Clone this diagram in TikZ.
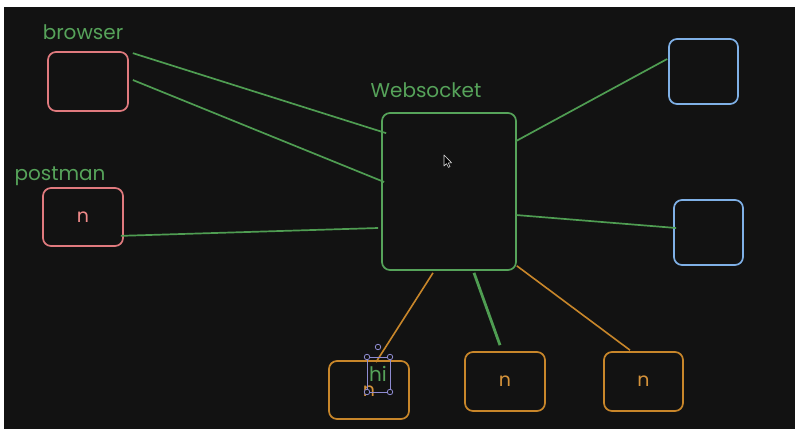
\documentclass[tikz,border=0pt]{standalone}
\usepackage{fontspec}
\setmainfont{Poppins}
\usetikzlibrary{calc}

\definecolor{bgdark}{HTML}{121212}
\definecolor{grn}{HTML}{56A35A}
\definecolor{grnline}{HTML}{4F9D52}
\definecolor{redbox}{HTML}{E07A7E}
\definecolor{redtxt}{HTML}{F08A8A}
\definecolor{bluebox}{HTML}{7FB0E6}
\definecolor{orbox}{HTML}{C8862A}
\definecolor{ortxt}{HTML}{D4923A}
\definecolor{selcol}{HTML}{8E8BD0}

\tikzset{
  card/.style={draw, rounded corners=8pt, line width=1.7pt, inner sep=0pt, fill=bgdark},
  redcard/.style={card, draw=redbox, minimum width=80pt, minimum height=59pt},
  bluecard/.style={card, draw=bluebox, minimum width=69pt, minimum height=65pt},
  orcard/.style={card, draw=orbox, minimum width=80pt, minimum height=59pt},
  label/.style={text=grn, font=\fontsize{20}{24}\selectfont, inner sep=0pt},
  glyph/.style={font=\fontsize{19}{22}\selectfont, inner sep=0pt},
  wire/.style={draw=grnline, line width=1.7pt},
  owire/.style={draw=orbox, line width=1.6pt},
  handle/.style={draw=selcol, fill=bgdark, line width=0.8pt, circle, inner sep=0pt, minimum size=5.5pt},
}

\begin{document}
\begin{tikzpicture}[x=1pt, y=-1pt]
  % canvas
  \useasboundingbox (0,0) rectangle (795,429);
  \fill[white] (0,0) rectangle (795,429);
  \fill[bgdark] (4,7) rectangle (795,429);

  % central server
  \node[card, draw=grn, minimum width=134pt, minimum height=157pt] (ws) at (449,191.5) {};
  \node[label] (wslbl) at (426,90) {Websocket};

  % clients on the left
  \node[redcard] (br) at (88,81.5) {};
  \node[label] (brlbl) at (83,32) {browser};
  \node[redcard, minimum height=58pt] (pm) at (83,217) {};
  \node[label] (pmlbl) at (60,176) {postman};
  \node[glyph, text=redtxt] (pmn) at (pm.center) {n};

  % clients on the right
  \node[bluecard] (b1) at (703.5,71.5) {};
  \node[bluecard] (b2) at (708.5,232.5) {};

  % clients below
  \node[orcard, minimum height=58pt] (oa) at (369,390) {};
  \node[orcard] (ob) at (505,381.5) {};
  \node[orcard, minimum width=79pt] (oc) at (643.5,381.5) {};
  \node[glyph, text=ortxt] (oan) at ([yshift=-1pt]oa.center) {n};
  \node[glyph, text=ortxt] (obn) at (ob.center) {n};
  \node[glyph, text=ortxt] (ocn) at (oc.center) {n};

  % connections
  \draw[wire] ([xshift=4pt,yshift=-2pt]br.north east) -- ([xshift=5pt,yshift=-21pt]ws.north west);
  \draw[wire] ([xshift=4pt,yshift=1.5pt]br.east) -- ([xshift=3pt,yshift=9.5pt]ws.west);
  \draw[wire] ([xshift=-3pt,yshift=11pt]pm.south east) -- ([xshift=-3pt,yshift=-36.5pt]ws.west);
  \draw[wire] ([xshift=-1pt,yshift=-29pt]ws.north east) -- ([xshift=-1pt,yshift=12.5pt]b1.west);
  \draw[wire] ([xshift=-1pt,yshift=-23.5pt]ws.east) -- ([xshift=3pt,yshift=4.5pt]b2.west);
  \draw[owire] ([xshift=-16pt,yshift=-2pt]ws.south) -- ([xshift=7pt,yshift=-2pt]oa.north);
  \draw[wire, line width=2.8pt] ([xshift=25pt,yshift=-2pt]ws.south) -- ([xshift=-5pt,yshift=6pt]ob.north);
  \draw[owire] ([yshift=5pt]ws.south east) -- ([xshift=-13.5pt,yshift=1pt]oc.north);

  % text being edited, with its selection frame
  \node[label] (hi) at (378,374) {hi};
  \draw[selcol, line width=0.8pt] (367,357) rectangle (390,392);
  \node[handle] (h1) at (367,357) {};
  \node[handle] (h2) at (390,357) {};
  \node[handle] (h3) at (367,392) {};
  \node[handle] (h4) at (390,392) {};
  \node[handle] (hrot) at (378,347) {};

  % mouse pointer
  \draw[fill=black, draw=white!85!black, line width=0.6pt, line join=round]
    (444,155) -- (444,166) -- (446.6,163.6) -- (448.4,167.4) -- (450,166.6)
    -- (448.3,163) -- (451.6,162.8) -- cycle;
\end{tikzpicture}
\end{document}
